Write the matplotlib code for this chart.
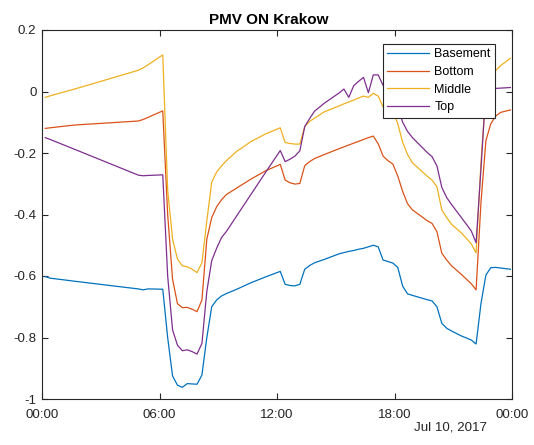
import numpy as np
import matplotlib
matplotlib.use("Agg")
import matplotlib.pyplot as plt

plt.rcParams['font.family'] = ['Liberation Sans', 'DejaVu Sans']

# time steps: 00:10 + k * 15 min (only the steps where the curves bend)
steps = [0, 1, 6, 19, 20, 21, 24, 25, 26, 27, 28, 29, 30, 31, 32, 33, 34, 35,
         36, 37, 39, 42, 45, 48, 49, 50, 51, 52, 53, 54, 55, 57, 60, 61, 62,
         63, 64, 65, 66, 67, 68, 69, 70, 71, 72, 73, 74, 75, 78, 79, 80, 81,
         82, 83, 85, 87, 88, 89, 90, 91, 92, 93, 95]
hours = [1 / 6 + 0.25 * k for k in steps]

basement = [-0.602, -0.607, -0.617, -0.642, -0.645, -0.642, -0.643, -0.800,
            -0.925, -0.955, -0.962, -0.950, -0.951, -0.952, -0.922, -0.800,
            -0.700, -0.678, -0.665, -0.657, -0.644, -0.622, -0.603, -0.585,
            -0.627, -0.631, -0.632, -0.627, -0.578, -0.566, -0.557, -0.546,
            -0.528, -0.524, -0.520, -0.517, -0.513, -0.510, -0.505, -0.500,
            -0.505, -0.548, -0.553, -0.558, -0.572, -0.633, -0.658, -0.663,
            -0.677, -0.681, -0.700, -0.754, -0.770, -0.779, -0.795, -0.808,
            -0.821, -0.689, -0.597, -0.573, -0.572, -0.574, -0.578]

bottom = [-0.120, -0.118, -0.109, -0.096, -0.091, -0.084, -0.063, -0.400,
          -0.610, -0.690, -0.703, -0.702, -0.708, -0.716, -0.678, -0.480,
          -0.410, -0.375, -0.352, -0.335, -0.315, -0.285, -0.258, -0.237,
          -0.288, -0.297, -0.301, -0.299, -0.241, -0.228, -0.218, -0.205,
          -0.186, -0.180, -0.174, -0.168, -0.162, -0.156, -0.150, -0.145,
          -0.170, -0.210, -0.225, -0.236, -0.275, -0.325, -0.365, -0.385,
          -0.420, -0.429, -0.456, -0.526, -0.548, -0.567, -0.595, -0.625,
          -0.645, -0.360, -0.160, -0.105, -0.080, -0.068, -0.060]

middle = [-0.019, -0.014, 0.008, 0.069, 0.077, 0.087, 0.119, -0.320,
          -0.480, -0.545, -0.567, -0.570, -0.578, -0.589, -0.557, -0.420,
          -0.295, -0.262, -0.242, -0.225, -0.196, -0.163, -0.138, -0.118,
          -0.166, -0.169, -0.171, -0.171, -0.114, -0.097, -0.087, -0.066,
          -0.047, -0.040, -0.034, -0.028, -0.021, -0.015, -0.019, -0.006,
          -0.015, -0.050, -0.055, -0.060, -0.105, -0.165, -0.205, -0.232,
          -0.275, -0.288, -0.310, -0.385, -0.410, -0.432, -0.460, -0.495,
          -0.525, -0.230, 0.000, 0.050, 0.068, 0.084, 0.108]

top = [-0.150, -0.156, -0.188, -0.272, -0.274, -0.273, -0.271, -0.600,
       -0.775, -0.825, -0.843, -0.840, -0.846, -0.854, -0.819, -0.650,
       -0.550, -0.510, -0.475, -0.455, -0.407, -0.335, -0.263, -0.192,
       -0.228, -0.220, -0.210, -0.193, -0.114, -0.088, -0.064, -0.038,
       -0.005, 0.008, -0.019, 0.019, 0.033, 0.046, -0.004, 0.054,
       0.054, 0.020, 0.010, 0.000, -0.050, -0.100, -0.130, -0.150,
       -0.198, -0.212, -0.242, -0.312, -0.345, -0.368, -0.410, -0.453,
       -0.492, -0.250, 0.005, 0.008, 0.010, 0.011, 0.013]

series_names = ['Basement', 'Bottom', 'Middle', 'Top']
series_colors = ['#0072BD', '#D95319', '#EDB120', '#7E2F8E']

xticks = [0, 6, 12, 18, 24]
xtick_labels = ['00:00', '06:00', '12:00', '18:00', '00:00']
yticks = [-1, -0.8, -0.6, -0.4, -0.2, 0, 0.2]
ytick_labels = ['-1', '-0.8', '-0.6', '-0.4', '-0.2', '0', '0.2']

fig = plt.figure(figsize=(5.34, 4.45), dpi=100)
ax = fig.add_axes([42 / 534, 1 - 399 / 445, 470 / 534, 369 / 445])

for name, vals, col in zip(series_names, [basement, bottom, middle, top], series_colors):
    ax.plot(hours, vals, color=col, lw=0.9, label=name)

ax.set_xlim(0, 24)
ax.set_ylim(-1, 0.2)
ax.set_xticks(xticks)
ax.set_xticklabels(xtick_labels)
ax.set_yticks(yticks)
ax.set_yticklabels(ytick_labels)

axcol = '#262626'
for s in ax.spines.values():
    s.set_color(axcol)
    s.set_linewidth(0.8)
ax.tick_params(direction='in', length=4.5, width=0.8, color=axcol,
               labelcolor=axcol, labelsize=9.6, top=True, right=True)
ax.tick_params(axis='x', pad=7)
ax.tick_params(axis='y', pad=4)

ax.set_title('PMV ON Krakow', fontsize=11, fontweight='bold', color='black',
             pad=4, x=(269 - 42) / 470)
fig.text(487 / 534, 1 - 428 / 445, 'Jul 10, 2017', ha='right', va='center',
         fontsize=9.6, color=axcol)

leg = ax.legend(loc='upper right', bbox_to_anchor=((495 - 42) / 470, (399 - 44) / 369),
                borderaxespad=0, fontsize=9, fancybox=False, framealpha=1,
                edgecolor='#262626', handlelength=3.35, handletextpad=0.4,
                borderpad=0.35, labelspacing=0.45)
leg.get_frame().set_linewidth(0.8)

fig.savefig('out.png', dpi=100)
